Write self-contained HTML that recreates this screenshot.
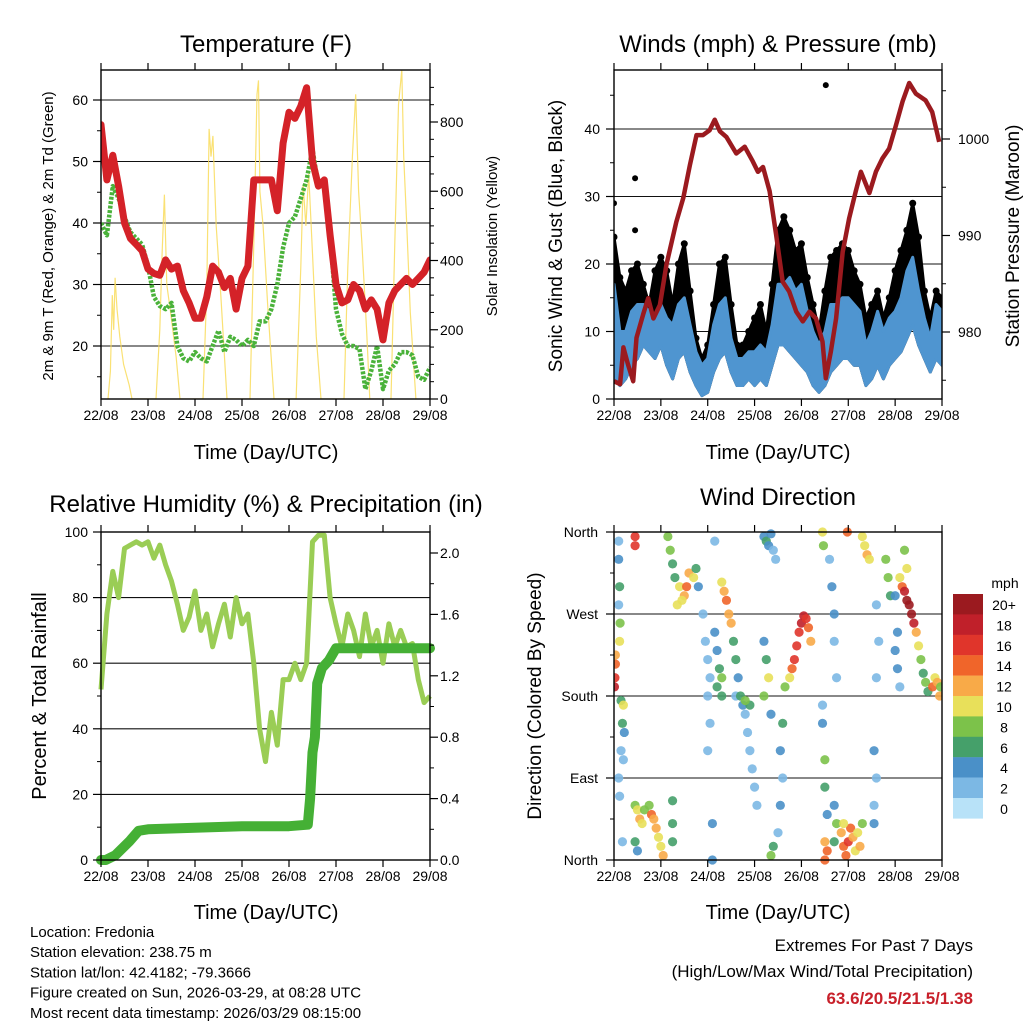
<!DOCTYPE html>
<html><head><meta charset="utf-8"><style>
html,body{margin:0;padding:0;background:#fff;}
svg{display:block;font-family:"Liberation Sans",Arial,sans-serif;}
</style></head><body>
<svg id="c" width="1024" height="1024" viewBox="0 0 1024 1024" xmlns="http://www.w3.org/2000/svg"></svg>
<script>
// ---------- DATA ----------
const dayLabels = ["22/08","23/08","24/08","25/08","26/08","27/08","28/08","29/08"];
// temperature (3-hourly, days 0..7)
const tempT = [56,47,51,46,40,37.5,36.5,35.5, 32.5,31.8,31.5,34,32.5,33,29,27, 24.5,24.5,28,33,32,29.5,31,26, 31,33,47,47,47,47,42,53, 58,57,59,62,50,46,47,38, 30,27,27.5,30,29,26,27.5,26, 21,27,29,30,31,30,31,32,34];
const dewT  = [40,38,46,44,41,38.5,37.5,36.5, 33,28,26.5,26,27,20,18,17.5, 19,18,17.5,20,22.5,19,21.5,21, 20,21,20,24,24,26,30,36, 40,41,44,47,52,46,46,38, 26,22,20,20,19.5,13,16,20, 13,16,17,19,19,18.5,15,14.5,16.5];
const solarT = [0.15,0.2,0.24,0.27,0.3,0.34,0.4,0.48,0.6,0.66, 1.17,1.25,1.3,1.35,1.4,1.48,1.6,1.68, 2.17,2.25,2.3,2.34,2.38,2.45,2.55,2.68, 3.17,3.25,3.32,3.35,3.38,3.45,3.55,3.68, 4.15,4.25,4.3,4.36,4.42,4.5,4.58,4.68, 5.17,5.25,5.35,5.42,5.48,5.55,5.65,5.72, 6.17,6.25,6.33,6.4,6.44,6.5,6.58,6.7];
const solarV = [0,80,300,200,350,260,180,100,40,0, 0,200,420,590,330,250,120,0, 0,320,780,700,760,500,300,0, 0,450,880,920,600,500,260,0, 0,380,620,500,650,420,180,0, 0,380,700,880,600,450,200,0, 0,450,850,950,700,520,250,0];
// winds (3-hourly)
const windLo = [3,2,3,5,6,8,7,6, 8,5,3,6,7,4,2,0.5, 1,4,6,7,4,2,2,3, 2,3,2,5,8,8,7,6, 5,4,2,1,2,4,5,6, 6,5,5,2,3,5,3,5, 6,7,9,11,8,6,4,6,5];
const windHi = [17,10,10,13,14,14,13,12, 14,12,11,14,15,11,7,5, 6,11,14,15,9,6,6,7, 7,8,7,11,17,17,18,16, 17,13,10,8,10,14,14,15, 15,14,13,8,10,13,10,12, 13,15,19,21,16,12,9,14,13];
const gustHi = [24,18,16,19,20,17,14,19, 21,19,14,20,23,16,9,6, 8,14,20,21,14,8,8,10, 12,14,10,17,25,27,25,22, 23,18,14,10,16,21,22,23, 22,19,17,12,14,16,12,15, 19,22,25,29,24,16,12,16,15];
const gustOutT = [0.0,0.45,0.45,4.52];
const gustOutV = [29,32.7,25,46.5];
const presT = [0,0.13,0.2,0.3,0.41,0.48,0.62,0.73,0.84,0.98,1.12,1.33,1.48,1.62,1.76,1.9,2.04,2.15,2.26,2.4,2.61,2.79,2.96,3.07,3.18,3.32,3.46,3.6,3.74,3.89,4.03,4.17,4.31,4.45,4.52,4.63,4.74,4.88,5.02,5.16,5.27,5.45,5.59,5.73,5.87,6.01,6.16,6.3,6.44,6.65,6.79,6.94];
const presV = [974.9,974.6,978.4,976.6,974.9,979.4,981.8,983.5,981.4,982.8,987,991.4,993.9,997.3,1000.4,1000.4,1000.9,1002,1000.8,1000.2,998.5,999.2,997.7,996.6,997.1,994.6,990.1,985.2,984.2,982.1,981.1,982.1,981.4,979,975.2,978,981.4,988.3,991.8,994.6,996.6,994.4,996.6,998,999,1001.3,1003.9,1005.8,1004.7,1004,1002.8,999.7];
// relative humidity (3-hourly)
const rhV = [52,75,88,80,95,96,97,96, 97,92,96,90,85,78,70,74, 82,70,75,65,72,78,68,80, 72,75,60,40,30,45,35,55, 55,60,55,60,97,99,99,80, 72,65,75,70,62,75,65,70, 60,72,65,70,65,66,55,48,50];
const precipT = [0,0.1,0.3,0.6,0.8,1.0,2.0,3.0,4.0,4.4,4.45,4.5,4.55,4.6,4.7,4.85,5.0,7.0];
const precipV = [0,0,0.03,0.12,0.19,0.2,0.21,0.22,0.22,0.23,0.4,0.7,0.8,1.15,1.25,1.3,1.38,1.38];
// wind direction scatter
const wdTime = [0.01,0.02,0.03,0.03, 0.1,0.1,0.12,0.1,0.13,0.12,0.15,0.2,0.18,0.22,0.15,0.2,0.1,0.12,0.18,0.45,0.45,
 0.45,0.5,0.55,0.6,0.65,0.75,0.8,0.85,0.9,0.95,1.0,1.05,0.45,0.5,1.25,1.25,1.25,
 1.15,1.2,1.25,1.3,1.4,1.5,1.55,1.6,1.7,1.75,1.8,1.35,1.45,
 1.9,1.95,2.0,2.05,2.0,2.05,2.0,2.1,2.1,2.15,2.2,2.25,2.2,2.3,2.3,2.15,
 2.3,2.35,2.4,2.45,2.5,2.55,2.6,2.65,2.6,
 2.7,2.75,2.8,2.85,2.9,2.95,3.0,3.05,2.9,2.8,
 3.2,3.25,3.3,3.35,3.4,3.45, 3.2,3.25,3.3,3.2,3.35,
 3.35,3.4,3.5,3.55,3.6,3.55,3.6,3.65,
 3.75,3.8,3.85,3.9,3.95,4.0,4.05,4.1,4.15,4.2,
 4.45,4.47,4.45,4.45,4.5,4.5,4.55,4.5,4.55,4.5,
 4.6,4.65,4.7,4.7,4.75,4.7,4.75,4.7,
 4.85,4.9,4.95,5.0,5.05,5.1,5.15,5.2,5.25,5.3,4.9,
 4.98,5.3,5.35,5.4,5.45,
 5.55,5.6,5.55,5.55,5.6,5.65,5.6,
 5.8,5.85,5.9,
 6.0,6.05,6.1,6.05,6.0,
 6.1,6.15,6.2,6.25,6.3,6.35,6.4,6.45,6.5,6.55,6.6,6.65,6.7,6.8,6.85,6.9,6.2,6.25,6.95,6.97];
const wdDir = [190,200,215,225, 350,330,300,280,260,240,175,170,150,140,120,110,90,70,20,355,345,
 60,55,45,40,55,60,50,45,35,25,15,5,20,10,65,40,20,
 355,340,325,310,300,290,300,315,310,320,300,280,285,
 270,240,220,200,180,150,120,0,40,250,230,210,190,200,180,350,
 305,295,285,270,260,240,220,200,180,
 180,170,160,140,120,100,80,60,170,175,
 355,350,345,358,340,330, 240,220,200,180,160,
 5,15,30,60,90,120,150,190,
 200,210,220,235,250,260,268,265,255,240,
 360,345,170,150,110,80,50,20,10,0,
 330,300,270,240,200,60,40,20,
 30,15,5,20,35,25,10,30,15,40,40,
 360,355,345,335,330,
 120,90,60,40,280,240,200,
 330,310,290,
 230,210,190,250,290,
 310,300,295,285,280,270,260,250,235,220,205,195,185,190,200,195,340,320,180,190];
const wdSpd = [18,16,14,13, 3,4,6,3,8,10,7,10,6,5,3,3,2,3,2,16,16,
 8,10,12,10,8,8,14,12,12,11,10,12,6,5,6,6,6,
 8,8,7,6,10,12,14,12,10,6,4,10,11,
 2,2,2,3,2,2,2,4,4,5,4,7,6,8,6,3,
 10,12,14,13,12,6,6,4,3,
 6,4,3,2,3,2,2,3,6,8,
 4,6,4,5,3,3, 4,6,10,8,4,
 8,6,3,4,3,4,6,8,
 10,14,16,16,17,18,18,16,14,12,
 10,8,3,4,8,6,4,12,14,14,
 3,5,4,3,2,4,8,6,
 12,14,15,16,14,12,10,10,12,8,10,
 14,10,10,12,10,
 4,3,3,4,2,3,2,
 8,8,6,
 4,4,3,4,4,
 10,14,18,20,20,20,18,12,10,8,7,8,6,14,10,12,8,10,13,9];
const cbLabels = ["20+","18","16","14","12","10","8","6","4","2","0"];
const cbColors = ["#9b1a1f","#c0202a","#e0352b","#f0652a","#f8aa48","#e8e05a","#7cc24a","#45a06a","#4a90c8","#7cb8e4","#b8e2f8"];

// ---------- HELPERS ----------
const svg = document.getElementById('c');
const NS = 'http://www.w3.org/2000/svg';
function mk(tag, attrs, parent, text){
  const e = document.createElementNS(NS, tag);
  for (const k in attrs) e.setAttribute(k, attrs[k]);
  if (text !== undefined) e.textContent = text;
  (parent || svg).appendChild(e);
  return e;
}
function lin(d0,d1,r0,r1){ return v => r0 + (v-d0)*(r1-r0)/(d1-d0); }
function pathFrom(xs, ys, fx, fy){
  return xs.map((t,i)=>(i?'L':'M')+fx(t).toFixed(1)+','+fy(ys[i]).toFixed(1)).join('');
}
const step3 = i => i*0.125;
function txt(x,y,s,size,anchor,parent,name,extra){
  const e = mk('text', Object.assign({x:x,y:y,'font-size':size,'text-anchor':anchor||'middle',fill:'#000'}, extra||{}), parent, s);
  
  
  return e;
}
function frame(L,T,R,B,name){
  const g = mk('g',{});
  
  
  return g;
}
function xAxis(g,L,T,R,B,fx){
  dayLabels.forEach((d,i)=>{
    const x = fx(i);
    mk('line',{x1:x,y1:B,x2:x,y2:B+7,stroke:'#000','stroke-width':1.2},g);
    mk('line',{x1:x,y1:T,x2:x,y2:T-7,stroke:'#000','stroke-width':1.2},g);
    txt(x,B+21,d,14,'middle',g,'x-tick-label');
  });
}
function yTicks(g,x,vals,fy,dir,labels,lx,anchor,minor){
  vals.forEach((v,i)=>{
    const y=fy(v);
    mk('line',{x1:x,y1:y,x2:x+dir*8,y2:y,stroke:'#000','stroke-width':1.2},g);
    txt(lx,y+5,labels[i],14,anchor,g,'y-tick-label');
  });
  (minor||[]).forEach(v=>{ const y=fy(v); mk('line',{x1:x,y1:y,x2:x+dir*4,y2:y,stroke:'#000','stroke-width':1},g); });
}
function grid(g,L,R,vals,fy){
  vals.forEach(v=>{ const y=fy(v); mk('line',{x1:L,y1:y,x2:R,y2:y,stroke:'#111','stroke-width':1.1},g); });
}
function border(g,L,T,R,B){ mk('rect',{x:L,y:T,width:R-L,height:B-T,fill:'none',stroke:'#000','stroke-width':1.4},g); }
function clip(id,L,T,R,B){ const c=mk('clipPath',{id:id}); mk('rect',{x:L,y:T,width:R-L,height:B-T},c); }

// ---------- PANEL 1: TEMPERATURE ----------
(function(){
  const L=101,T=70,R=430,B=399;
  const fx=lin(0,7,L,R), fy=lin(20,60,346,100), fs=lin(0,800,399,122);
  const g=frame(L,T,R,B,'temperature-panel');
  clip('c1',L,T,R,B);
  grid(g,L,R,[20,30,40,50,60],fy);
  const pg=mk('g',{'clip-path':'url(#c1)'},g);
  const sol=mk('path',{d:pathFrom(solarT,solarV,fx,fs),fill:'none',stroke:'#f9dc5c','stroke-width':1.2,opacity:0.85},pg);
   
  const ts=tempT.map((_,i)=>step3(i));
  const dw=mk('path',{d:pathFrom(ts,dewT,fx,fy),fill:'none',stroke:'#4ab23a','stroke-width':4.5,'stroke-dasharray':'3 1.5','stroke-linejoin':'round'},pg);
   
  const tp=mk('path',{d:pathFrom(ts,tempT,fx,fy),fill:'none',stroke:'#d42228','stroke-width':7,'stroke-linejoin':'round','stroke-linecap':'round'},pg);
   
  border(g,L,T,R,B);
  xAxis(g,L,T,R,B,fx);
  yTicks(g,L,[20,30,40,50,60],fy,-1,['20','30','40','50','60'],88,'end',[15,25,35,45,55]);
  yTicks(g,R,[0,200,400,600,800],fs,1,['0','200','400','600','800'],440,'start',[50,100,150,250,300,350,450,500,550,650,700,750,850,900]);
  txt(266,52,'Temperature (F)',24,'middle',g,'temperature-title');
  txt(266,459,'Time (Day/UTC)',20,'middle',g,'x-axis-title');
  txt(0,0,'2m & 9m T (Red, Orange) & 2m Td (Green)',15,'middle',g,'y-axis-title',{transform:'translate(53,236) rotate(-90)'});
  txt(0,0,'Solar Insolation (Yellow)',15,'middle',g,'y2-axis-title',{transform:'translate(497,236) rotate(-90)'});
})();

// ---------- PANEL 2: WINDS ----------
(function(){
  const L=614,T=70,R=942,B=399;
  const fx=lin(0,7,L,R), fy=lin(0,40,399,129), fp=lin(980,1000,332,139);
  const g=frame(L,T,R,B,'winds-panel');
  clip('c2',L,T,R,B);
  grid(g,L,R,[10,20,30,40],fy);
  const pg=mk('g',{'clip-path':'url(#c2)'},g);
  const ts=windLo.map((_,i)=>step3(i));
  const rev=ts.slice().reverse();
  const gp=pathFrom(ts,gustHi,fx,fy)+pathFrom(rev,windLo.slice().reverse(),fx,fy).replace('M','L')+'Z';
  const ga=mk('path',{d:gp,fill:'#000',stroke:'#000','stroke-width':3,'stroke-linejoin':'round'},pg);
   
  gustHi.forEach((v,i)=>{
    const c=mk('circle',{cx:fx(ts[i]),cy:fy(v),r:3.5,fill:'#000'},pg);
    
    
  });
  gustOutT.forEach((t,i)=>{
    const c=mk('circle',{cx:fx(t),cy:fy(gustOutV[i]),r:3,fill:'#000'},pg);
    
    
  });
  const wp=pathFrom(ts,windHi,fx,fy)+pathFrom(rev,windLo.slice().reverse(),fx,fy).replace('M','L')+'Z';
  const wa=mk('path',{d:wp,fill:'#4f95d0',stroke:'#4f95d0','stroke-width':3,'stroke-linejoin':'round'},pg);
   
  const pr=mk('path',{d:pathFrom(presT,presV,fx,fp),fill:'none',stroke:'#9b1a1f','stroke-width':4.5,'stroke-linejoin':'round'},pg);
   
  border(g,L,T,R,B);
  xAxis(g,L,T,R,B,fx);
  yTicks(g,L,[0,10,20,30,40],fy,-1,['0','10','20','30','40'],600,'end',[5,15,25,35,45]);
  yTicks(g,R,[980,990,1000],fp,1,['980','990','1000'],958,'start',[975,985,995,1005]);
  txt(778,52,'Winds (mph) & Pressure (mb)',24,'middle',g,'winds-title');
  txt(778,459,'Time (Day/UTC)',20,'middle',g,'x-axis-title');
  txt(0,0,'Sonic Wind & Gust (Blue, Black)',19,'middle',g,'y-axis-title',{transform:'translate(562,236) rotate(-90)'});
  txt(0,0,'Station Pressure (Maroon)',19,'middle',g,'y2-axis-title',{transform:'translate(1019,236) rotate(-90)'});
})();

// ---------- PANEL 3: RH & PRECIP ----------
(function(){
  const L=101,T=532,R=430,B=860;
  const fx=lin(0,7,L,R), fy=lin(0,100,860,532), fp=lin(0,2,860,553);
  const g=frame(L,T,R,B,'humidity-panel');
  clip('c3',L-6,T,R+6,B+6);
  grid(g,L,R,[20,40,60,80],fy);
  const pg=mk('g',{'clip-path':'url(#c3)'},g);
  const ts=rhV.map((_,i)=>step3(i));
  const rh=mk('path',{d:pathFrom(ts,rhV,fx,fy),fill:'none',stroke:'#9acd55','stroke-width':5,'stroke-linejoin':'round'},pg);
   
  const pc=mk('path',{d:pathFrom(precipT,precipV,fx,fp),fill:'none',stroke:'#45b035','stroke-width':10,'stroke-linejoin':'round','stroke-linecap':'round'},pg);
   
  border(g,L,T,R,B);
  xAxis(g,L,T,R,B,fx);
  yTicks(g,L,[0,20,40,60,80,100],fy,-1,['0','20','40','60','80','100'],88,'end',[10,30,50,70,90]);
  yTicks(g,R,[0,0.4,0.8,1.2,1.6,2.0],fp,1,['0.0','0.4','0.8','1.2','1.6','2.0'],440,'start',[0.2,0.6,1.0,1.4,1.8]);
  txt(266,512,'Relative Humidity (%) & Precipitation (in)',24,'middle',g,'humidity-title');
  txt(266,919,'Time (Day/UTC)',20,'middle',g,'x-axis-title');
  txt(0,0,'Percent & Total Rainfall',20,'middle',g,'y-axis-title',{transform:'translate(46,696) rotate(-90)'});
})();

// ---------- PANEL 4: WIND DIRECTION ----------
(function(){
  const L=614,T=532,R=942,B=860;
  const fx=lin(0,7,L,R), fy=lin(0,360,860,532);
  const g=frame(L,T,R,B,'wind-direction-panel');
  clip('c4',L,T-5,R,B+5);
  grid(g,L,R,[90,180,270,360],fy);
  const pg=mk('g',{'clip-path':'url(#c4)'},g);
  function col(s){ const i=Math.min(10,Math.floor(s/2)); return cbColors[10-i]; }
  wdTime.forEach((t,i)=>{
    const c=mk('circle',{cx:fx(t),cy:fy(wdDir[i]),r:4.6,fill:col(wdSpd[i]),opacity:0.9},pg);
    
    
  });
  border(g,L,T,R,B);
  xAxis(g,L,T,R,B,fx);
  yTicks(g,L,[0,90,180,270,360],fy,-1,['North','East','South','West','North'],598,'end',[45,135,225,315]);
  txt(778,505,'Wind Direction',24,'middle',g,'wind-direction-title');
  txt(778,919,'Time (Day/UTC)',20,'middle',g,'x-axis-title');
  txt(0,0,'Direction (Colored By Speed)',19,'middle',g,'y-axis-title',{transform:'translate(541,696) rotate(-90)'});
  // colorbar
  const cb=mk('g',{});
   
  cbColors.forEach((c,i)=>{
    mk('rect',{x:953,y:594+i*20.4,width:30,height:20.6,fill:c},cb);
    txt(1004,594+i*20.4+16,cbLabels[i],14,'middle',cb,'colorbar-label');
  });
  txt(1005,588,'mph',14,'middle',cb,'colorbar-unit');
})();

// ---------- FOOTER ----------
const foot=["Location: Fredonia","Station elevation: 238.75 m","Station lat/lon: 42.4182; -79.3666","Figure created on Sun, 2026-03-29, at 08:28 UTC","Most recent data timestamp: 2026/03/29 08:15:00"];
foot.forEach((s,i)=>txt(30,937+i*20.2,s,15,'start',svg,'station-info-line'));
txt(973,951,'Extremes For Past 7 Days',17,'end',svg,'extremes-title');
txt(973,977,'(High/Low/Max Wind/Total Precipitation)',17,'end',svg,'extremes-subtitle');
txt(973,1004,'63.6/20.5/21.5/1.38',17,'end',svg,'extremes-values',{fill:'#c8202a','font-weight':'bold'});
</script>
</body></html>
